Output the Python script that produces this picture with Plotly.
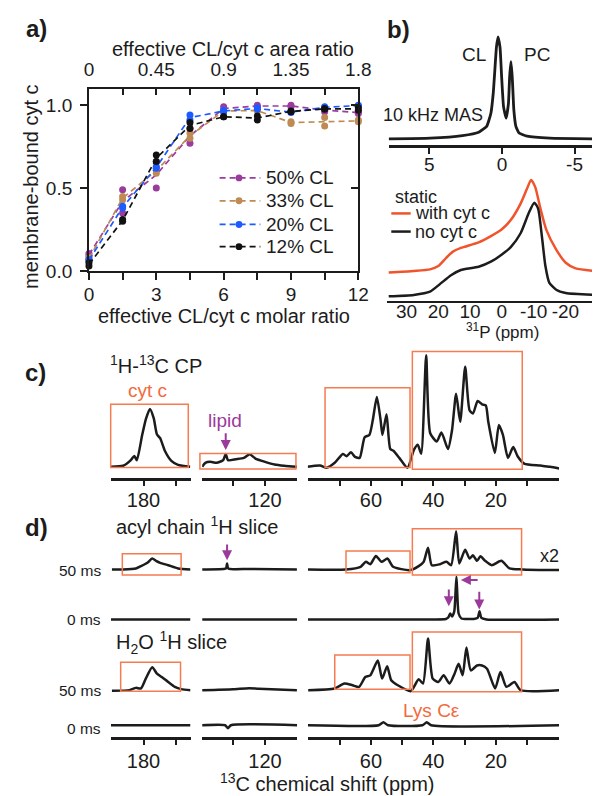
import numpy as np
import plotly.graph_objects as go

W, H = 600, 796
def X(px): return px / W
def Y(py): return 1 - py / H

FONT = "Liberation Sans, Arial, Helvetica, sans-serif"
INK = "#1c1c1c"
ORANGE = "#F26B3C"
BOXC = "#F47C50"
PURPLE = "#9B3A9B"
RED = "#F0542C"
DASH = "6px,4px"

# ---------------- panel a data ----------------
molar_ratio = [0, 1.5, 3, 4.5, 6, 7.5, 9, 10.5, 12]
molar_tick_text = ["0", "", "3", "", "6", "", "9", "", "12"]
area_tick_vals = [0, 0.225, 0.45, 0.675, 0.9, 1.125, 1.35, 1.575, 1.8]
area_tick_text = ["0", "", "0.45", "", "0.9", "", "1.35", "", "1.8"]
series_names = ["50% CL", "33% CL", "20% CL", "12% CL"]
series_colors = ["#9A3B9E", "#BF8B55", "#1B5BFF", "#111111"]
cl50_rep1 = [0.105, 0.49, 0.50, 0.77, 0.99, 1.00, 1.00, 0.96, 0.95]
cl50_rep2 = [0.09, 0.35, 0.66, 0.86, 0.97, 0.99, 0.99, 0.98, 0.96]
cl33_rep1 = [0.08, 0.45, 0.59, 0.80, 0.97, 0.965, 0.89, 0.875, 0.90]
cl33_rep2 = [0.07, 0.43, 0.62, 0.83, 0.96, 0.97, 0.90, 0.925, 0.91]
cl20_rep1 = [0.07, 0.39, 0.63, 0.94, 0.97, 0.985, 0.96, 0.99, 1.00]
cl20_rep2 = [0.06, 0.38, 0.62, 0.91, 0.96, 0.975, 0.955, 0.985, 0.995]
cl12_rep1 = [0.03, 0.30, 0.70, 0.895, 0.93, 0.91, 0.965, 0.98, 0.985]
cl12_rep2 = [0.05, 0.31, 0.66, 0.86, 0.93, 0.935, 0.96, 0.975, 0.97]
replicates = [(cl50_rep1, cl50_rep2), (cl33_rep1, cl33_rep2),
              (cl20_rep1, cl20_rep2), (cl12_rep1, cl12_rep2)]

# ---------------- panel b data ----------------
mas_ppm = [7.8, 4.94, 2.72, 1.6, 1.05, 0.76, 0.6, 0.49, 0.38, 0.27, 0.13, 0.02, -0.11,
           -0.29, -0.45, -0.53, -0.62, -0.71, -0.82, -0.96, -1.18, -1.74, -3.3, -6.41]
mas_int = [0, 0.7, 3.3, 6.7, 12.7, 26, 46, 69.3, 92.7, 103.3, 92.7, 62.7, 32.7,
           21, 36, 62.7, 78.3, 62.7, 29.3, 12.7, 6, 2.7, 0.7, 0]
mas_ticks = [5, 0, -5]
static_ticks = [30, 20, 10, 0, -10, -20]
withcyt_ppm = [35.6, 27.7, 22.6, 20.0, 17.5, 15.5, 12.9, 7.3, 3.3, 0, -2.8, -5.9, -7.9,
               -9.2, -10.5, -12.0, -14.0, -17.1, -20.1, -23.2, -29.3]
withcyt_int = [0, 1.7, 3.3, 6.7, 15, 21, 25, 30.7, 37.3, 44, 53.3, 70, 85,
               94, 86.7, 66.7, 43.3, 23.3, 10, 4.3, 1.7]
nocyt_ppm = [35.6, 27.7, 22.6, 19.5, 16.0, 12.9, 7.3, 3.3, 0, -2.8, -5.9, -8.4, -10.2,
             -11.4, -12.6, -13.7, -14.9, -17.1, -20.1, -29.3]
nocyt_int = [-0.7, 0.7, 4, 11.7, 20.7, 26, 29.3, 34.7, 41.7, 49.3, 63.3, 83.3, 94.3,
             88.3, 60, 30, 13.3, 6, 2.7, 0.7]

# ---------------- panel c/d data (13C, ppm) ----------------
cp_ppm = [190.2, 186.4, 183.9, 182.9, 182.1, 180.4, 179.2, 178.0, 176.8, 175.8, 174.8, 173.3, 171.3, 169.2, 165.4,
          139.7, 138.7, 137.2, 135.2, 133.1, 132.3, 131.6, 129.1, 126.6, 124.8, 123.0, 120.0, 117.0, 114.0, 110.0,
          80.4, 76.3, 74.2, 71.6, 69.0, 67.8, 66.4, 65.1, 63.6, 62.0, 60.5, 59.4, 58.1, 56.9, 56.3, 55.0, 53.8,
          52.8, 50.9, 48.3, 46.2, 45.0, 43.9, 42.3, 41.0, 38.9, 37.4, 35.3, 34.0, 32.7, 31.4, 29.8, 28.4, 27.3,
          25.8, 24.4, 23.2, 22.4, 20.3, 19.0, 17.7, 16.1, 14.4, 13.0, 10.9, 5.7, 2.6, -0.3]
cp_int = [0, 1, 7, 11, 6.7, 32.7, 49, 58.7, 49, 32.7, 29, 16, 6, 2, 0,
          0, 4, 5, 4, 6.7, 13, 6.7, 7.7, 9, 12.7, 8.3, 5, 2.3, 1, 0,
          0, 1.3, -1, 4, 13, 10.7, 14.7, 10, 9, 30, 32.3, 47.3, 70.7, 47.3, 32.3, 53.3, 18,
          16.3, 9, -1, 17.3, 22.3, 13.3, 113, 34, 25.7, 34.7, 18, 37.3, 74, 45.7, 101.3, 57.3, 54,
          66.7, 63.3, 62.3, 45.7, 14, 42.3, 32.3, 9, 20, 10.7, 3.3, 1.3, 0, -1.7]

acyl50_ppm = [189.9, 186.4, 182.4, 180.8, 178.8, 177.3, 176.1, 174.8, 172.3, 169.2, 165.3,
              139.7, 133.0, 132.2, 131.9, 131.5, 125.0, 110.0,
              80.2, 68.0, 63.3, 61.6, 60.2, 58.4, 56.6, 54.7, 52.9, 47.5, 44.7, 43.1, 41.7, 40.5, 37.9,
              35.8, 34.3, 32.7, 31.7, 29.8, 28.4, 27.3, 26.0, 24.9, 23.4, 21.3, 18.2, 15.6, 11.5, -0.3]
acyl50_int = [0, 0, 1, 3.3, 6.7, 11, 8.7, 6.7, 4.3, 1, 0,
              0, 0.5, 1, 6, 1, 0.5, 0,
              0, 0, 2.7, 7.7, 5.3, 13.7, 7.7, 11, 2.7, -0.7, 3.3, 7.7, 22, 4.3, 5.3,
              7.7, 4.3, 38.6, 6, 20, 11, 14.3, 8.7, 13.3, 8.7, 4.3, 8.7, 1, 0, -0.7]

acyl0_ppm = [190.2, 165.3, 139.7, 109.9, 80.2, 40.0, 36.0, 35.2, 34.6, 34.0, 33.3, 32.6, 31.9, 31.0,
             27.0, 25.8, 25.2, 24.6, 23.0, -0.3]
acyl0_int = [0, 0, 0, 0, 0, 0, 0.5, 2, 6, 3, 8, 43.3, 6, 1, 0.5, 1.5, 8.3, 1.5, 0, 0]

h2o50_ppm = [189.9, 184.4, 182.4, 180.8, 179.3, 177.3, 175.8, 174.3, 172.3, 170.2, 168.2, 165.3,
             139.7, 130.0, 125.0, 122.0, 110.0,
             80.1, 71.6, 68.5, 65.9, 63.8, 61.8, 60.2, 57.8, 56.4, 54.8, 53.5, 51.4, 47.2, 44.7, 43.3, 41.7,
             40.2, 38.4, 36.7, 34.8, 33.2, 31.9, 30.6, 29.4, 28.0, 26.0, 24.4, 22.8, 20.2, 18.5, 16.6, 14.0,
             12.0, -0.3]
h2o50_int = [-0.7, 0, 2.3, 1.7, 11.7, 23.3, 16.7, 13.3, 8.3, 3.3, 1, 0,
             0, 1, 2, 1.5, 0,
             0, 1.7, 6.7, 5, 3.3, 13.3, 15, 30, 11.7, 24.3, 10, 5, -1, 11, 6.7, 52.3,
             11.7, 8.3, 15, 6.7, 16.7, 26.7, 15, 43.3, 20, 25, 25, 21.7, 1.7, 18.3, 3.3, 8.3,
             0, 0]

h2o0_ppm = [190.2, 165.3, 139.7, 132.5, 131.6, 130.7, 109.9, 80.2, 57.5, 56.0, 54.5, 43.5, 42.1, 40.7, -0.3]
h2o0_int = [0, 0, 0, 0, -3, 0, 0, 0, 0, 3, 0, 0, 3, 0, 0]

seg_tick_vals = [[180, 170], [130, 120], [70, 60, 50, 40, 30, 20, 10]]
seg_tick_text = [["180", ""], ["", "120"], ["", "60", "", "40", "", "20", ""]]

# ---------------- layout geometry (pixels) ----------------
SEG_DOM = [(101, 183), (195, 293), (304, 563)]
SEG_RANGE = [(190.2, 165.3), (139.7, 109.9), (80.2, -0.3)]

fig = go.Figure()
layout = dict(width=W, height=H, margin=dict(l=0, r=0, t=0, b=0),
              paper_bgcolor="white", plot_bgcolor="rgba(0,0,0,0)",
              font=dict(family=FONT, color=INK, size=19), showlegend=False)
shapes = []
ann = []

def txt(t, x, y, size=19, color=INK, xanchor="center", angle=0):
    ann.append(dict(text=t, x=X(x), y=Y(y), xref="paper", yref="paper", showarrow=False,
                    xanchor=xanchor, yanchor="middle", textangle=angle,
                    font=dict(size=size, color=color, family=FONT)))

# ---- panel a ----
for name, col, (r1, r2) in zip(series_names, series_colors, replicates):
    mean = np.mean([r1, r2], axis=0)
    fig.add_trace(go.Scatter(x=molar_ratio, y=mean, mode="lines", xaxis="x", yaxis="y",
                             line=dict(color=col, width=1.7, dash=DASH), name=name,
                             cliponaxis=False, hoverinfo="skip"))
    fig.add_trace(go.Scatter(x=molar_ratio + molar_ratio, y=list(r1) + list(r2), mode="markers",
                             xaxis="x", yaxis="y", marker=dict(color=col, size=7), name=name,
                             cliponaxis=False))
fig.add_trace(go.Scatter(x=[None], y=[None], xaxis="x2", yaxis="y"))
fig.add_trace(go.Scatter(x=[None], y=[None], xaxis="x", yaxis="y2"))

# legend drawn as decorations inside panel a
legend_rows = [172.3, 195.5, 219.5, 242]
for name, col, ry in zip(series_names, series_colors, legend_rows):
    shapes.append(dict(type="line", xref="paper", yref="paper", x0=X(213), x1=X(255),
                       y0=Y(ry), y1=Y(ry), line=dict(color=col, width=1.7, dash=DASH)))
    shapes.append(dict(type="circle", xref="paper", yref="paper", x0=X(229.5), x1=X(236.5),
                       y0=Y(ry + 3.5), y1=Y(ry - 3.5), fillcolor=col, line=dict(color=col, width=0)))
    txt(name, 259, ry, xanchor="left")

axcommon = dict(showgrid=False, zeroline=False, showline=True, linecolor=INK,
                tickcolor=INK, tickfont=dict(size=19, family=FONT, color=INK))
layout["xaxis"] = dict(axcommon, domain=[X(78.3), X(356)], range=[0, 12], anchor="y",
                       tickvals=molar_ratio, ticktext=molar_tick_text, ticks="outside",
                       ticklen=7, tickwidth=1.5, linewidth=1.8, ticklabelstandoff=-2)
layout["xaxis2"] = dict(axcommon, overlaying="x", side="top", anchor="y", range=[0, 1.8],
                        tickvals=area_tick_vals, ticktext=area_tick_text, ticks="inside",
                        ticklen=7, tickwidth=1.5, linewidth=1.8, ticklabelstandoff=3)
layout["yaxis"] = dict(axcommon, domain=[Y(266.7), Y(81.7)], range=[0, 1.1], anchor="x",
                       tickvals=[0, 0.5, 1.0], ticktext=["0.0", "0.5", "1.0"], ticks="outside",
                       ticklen=7, tickwidth=1.5, linewidth=1.8, ticklabelstandoff=4)
layout["yaxis2"] = dict(axcommon, overlaying="y", side="right", anchor="x", range=[0, 1.1],
                        tickvals=[0, 0.5, 1.0], showticklabels=False, ticks="inside",
                        ticklen=7, tickwidth=1.5, linewidth=1.8)

# ---- panel b ----
SPEC = dict(color=INK, width=2.5, shape="spline", smoothing=0.6)
fig.add_trace(go.Scatter(x=mas_ppm, y=np.array(mas_int) + 6.6, mode="lines", xaxis="x3", yaxis="y3",
                         line=dict(SPEC, width=2.8, smoothing=0.4)))
fig.add_trace(go.Scatter(x=withcyt_ppm, y=np.array(withcyt_int) + 28.4, mode="lines", xaxis="x4",
                         yaxis="y4", line=dict(SPEC, color=RED)))
fig.add_trace(go.Scatter(x=nocyt_ppm, y=np.array(nocyt_int) + 5, mode="lines", xaxis="x4",
                         yaxis="y4", line=SPEC))
layout["xaxis3"] = dict(axcommon, domain=[X(387.3), 1], range=[7.8, -6.41], anchor="y3",
                        tickvals=mas_ticks, ticktext=[str(t) for t in mas_ticks], ticks="outside",
                        ticklen=6, tickwidth=2, linewidth=3, ticklabelstandoff=-6)
layout["yaxis3"] = dict(domain=[Y(139.3), Y(25)], range=[0, 114.3], visible=False, anchor="x3")
layout["xaxis4"] = dict(axcommon, domain=[X(386), 1], range=[36, -29.3], anchor="y4",
                        tickvals=static_ticks, ticktext=[str(t) for t in static_ticks], ticks="",
                        linewidth=2, ticklabelstandoff=-7)
layout["yaxis4"] = dict(domain=[Y(296.7), Y(165)], range=[0, 131.7], visible=False, anchor="x4")

# ---- panels c, d (broken 13C axes) ----
def add_segments(first, yname, ydom, yrange, spectra, standoff):
    for i, (dom, rng, tv, tt) in enumerate(zip(SEG_DOM, SEG_RANGE, seg_tick_vals, seg_tick_text)):
        xid = first + i
        for ppm, inten, off in spectra:
            p = np.array(ppm, dtype=float)
            v = np.array(inten, dtype=float)
            m = (p <= rng[0] + 0.6) & (p >= rng[1] - 0.6)
            fig.add_trace(go.Scatter(x=p[m], y=v[m] + off, mode="lines", xaxis=f"x{xid}",
                                     yaxis=yname, line=SPEC))
        layout[f"xaxis{xid}"] = dict(axcommon, domain=[X(dom[0]), X(dom[1])], range=list(rng),
                                     anchor=yname, tickvals=tv, ticktext=tt, ticks="outside",
                                     ticklen=5, tickwidth=2, linewidth=3,
                                     tickfont=dict(size=20, family=FONT, color=INK),
                                     ticklabelstandoff=standoff)
    layout["yaxis" + yname[1:]] = dict(domain=ydom, range=yrange, visible=False, anchor=f"x{first}")

add_segments(5, "y5", [Y(476.7), Y(340)], [0, 136.7], [(cp_ppm, cp_int, 11.5)], -3)
add_segments(8, "y8", [Y(739.3), Y(520)], [0, 219.3],
             [(acyl50_ppm, acyl50_int, 170), (acyl0_ppm, acyl0_int, 119.3),
              (h2o50_ppm, h2o50_int, 47.6), (h2o0_ppm, h2o0_int, 12)], -1)

# ---- boxes ----
boxes = [
    (100.7, 180.7, 401.7, 466), (192.7, 291.7, 451.7, 467.5), (321.7, 409.3, 385, 466), (411.7, 525, 348.3, 467.7),
    (112.7, 173.3, 553.3, 575), (343.3, 409.3, 550.7, 572.7), (411.7, 524.3, 528, 575),
    (111, 172.7, 663.3, 692.7), (331.7, 409.3, 656, 690.7), (411.7, 524.3, 632.7, 693.3),
]
for x0, x1, y0, y1 in boxes:
    shapes.append(dict(type="rect", xref="paper", yref="paper", x0=X(x0), x1=X(x1), y0=Y(y1), y1=Y(y0),
                       line=dict(color=BOXC, width=1.5)))
shapes.append(dict(type="line", xref="paper", yref="paper", x0=X(390), x1=X(410), y0=Y(208.3), y1=Y(208.3),
                   line=dict(color=RED, width=2.5)))
shapes.append(dict(type="line", xref="paper", yref="paper", x0=X(390), x1=X(410), y0=Y(226.7), y1=Y(226.7),
                   line=dict(color=INK, width=2.5)))
layout["shapes"] = shapes

# ---- text ----
txt("<b>a)</b>", 24, 21, size=24)
txt("<b>b)</b>", 397, 22, size=24)
txt("<b>c)</b>", 23, 370, size=24)
txt("<b>d)</b>", 24, 527, size=24)
txt("effective CL/cyt c area ratio", 227, 42, size=20)
txt("effective CL/cyt c molar ratio", 218, 312, size=20)
txt("membrane-bound cyt c", 19, 181, size=20, angle=-90)
txt("CL", 475.5, 46.7)
txt("PC", 540, 46.7)
txt("10 kHz MAS", 433, 109, size=18)
txt("static", 391.7, 191.5, xanchor="left", size=18)
txt("with cyt c", 412, 208, xanchor="left", size=18)
txt("no cyt c", 412, 226.7, xanchor="left", size=18)
txt("<sup>31</sup>P (ppm)", 505, 328, size=17)
txt("<sup>1</sup>H-<sup>13</sup>C CP", 98, 362, size=20, xanchor="left")
txt("cyt c", 139, 388, color=ORANGE)
txt("lipid", 219, 418, color=PURPLE)
txt("acyl chain <sup>1</sup>H slice", 104, 525, size=20, xanchor="left")
txt("H<sub>2</sub>O <sup>1</sup>H slice", 104, 643, size=20, xanchor="left")
txt("50 ms", 93, 570, size=15.5, xanchor="right")
txt("0 ms", 93, 620, size=15.5, xanchor="right")
txt("50 ms", 93, 691.7, size=15.5, xanchor="right")
txt("0 ms", 93, 731, size=15.5, xanchor="right")
txt("x2", 553, 556, size=18)
txt("Lys Cε", 431, 712, color=ORANGE)
txt("<sup>13</sup>C chemical shift (ppm)", 324, 785, size=20)

def arrow(hx, hy, tx, ty):
    ann.append(dict(text="", x=X(hx), y=Y(hy), xref="paper", yref="paper", ax=tx - hx, ay=ty - hy,
                    axref="pixel", ayref="pixel", showarrow=True, arrowhead=2, arrowsize=1,
                    arrowwidth=2, arrowcolor=PURPLE))

arrow(219.3, 448.3, 219.3, 430)
arrow(220.7, 560, 220.7, 542.7)
arrow(449.3, 606.7, 449.3, 588.3)
arrow(480.7, 610, 480.7, 590.7)
arrow(461.7, 580, 480, 580)
layout["annotations"] = ann

fig.update_layout(**layout)
fig.write_html("out.html")
